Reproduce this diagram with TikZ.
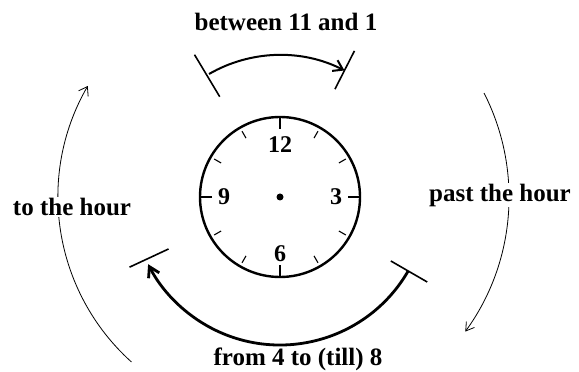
\documentclass[tikz,border=0pt]{standalone}
\usepackage{fontspec}
\setmainfont{Liberation Serif}
\usetikzlibrary{arrows.meta, calc}
\tikzset{
  lbl/.style={font=\bfseries\fontsize{25}{29}\selectfont, inner sep=1pt},
  hournum/.style={font=\bfseries\fontsize{24}{28}\selectfont, inner sep=0pt},
  face/.style={line width=2.4pt},
  majortick/.style={line width=2pt},
  minortick/.style={line width=1.1pt},
  bar/.style={line width=1.6pt},
  spanarc/.style={line width=2pt},
  thinarc/.style={line width=0.8pt}
}
\begin{document}
\begin{tikzpicture}[x=1pt, y=1pt]
  \useasboundingbox (0,0) rectangle (579,372);

  % clock face
  \coordinate (c) at (280,175);
  \draw[face] (c) circle[radius=80];
  \fill (c) circle[radius=3.5];
  \foreach \a in {0,90,180,270}
    \draw[majortick] ($(c)+(\a:68)$) -- ($(c)+(\a:80)$);
  \foreach \a in {30,60,120,150,210,240,300,330}
    \draw[minortick] ($(c)+(\a:68)$) -- ($(c)+(\a:76)$);
  \node[hournum] (h12) at ($(c)+(0,52)$) {12};
  \node[hournum] (h3) at ($(c)+(56,0)$) {3};
  \node[hournum] (h6) at ($(c)+(0,-57)$) {6};
  \node[hournum] (h9) at ($(c)+(-56,0)$) {9};

  % between 11 and 1
  \coordinate (top-a) at ($(c)+(120:142)$);
  \draw[bar] ($(c)+(121:117)$) -- ($(c)+(121:166)$);
  \draw[bar] ($(c)+(63:121)$) -- ($(c)+(63:164)$);
  \draw[spanarc, -{Straight Barb[length=9pt, width=12pt]}]
    (top-a) arc[start angle=120, end angle=63, radius=142];
  \node[lbl] (between) at (286,350) {between 11 and 1};

  % from 4 to (till) 8
  \coordinate (bot-a) at ($(c)+(-30:148)$);
  \draw[bar] ($(c)+(-30:128)$) -- ($(c)+(-30:170)$);
  \draw[bar] ($(c)+(205:123)$) -- ($(c)+(205:166)$);
  \draw[line width=2.8pt, -{Straight Barb[length=10pt, width=12pt]}]
    (bot-a) arc[start angle=-30, end angle=-153, radius=148];
  \node[lbl] (fromto) at (298,13) {from 4 to (till) 8};

  % to the hour
  \coordinate (left-a) at ($(c)+(228:222)$);
  \draw[thinarc, -{Straight Barb[length=8pt, width=11pt]}]
    (left-a) arc[start angle=228, end angle=150, radius=222];
  \node[lbl, fill=white] (tohour) at (72,165) {to the hour};

  % past the hour
  \coordinate (right-a) at ($(c)+(27:229)$);
  \draw[thinarc, -{Straight Barb[length=8pt, width=10pt]}]
    (right-a) arc[start angle=27, end angle=-36, radius=229];
  \node[lbl, fill=white] (pasthour) at (500,177) {past the hour};
\end{tikzpicture}
\end{document}
